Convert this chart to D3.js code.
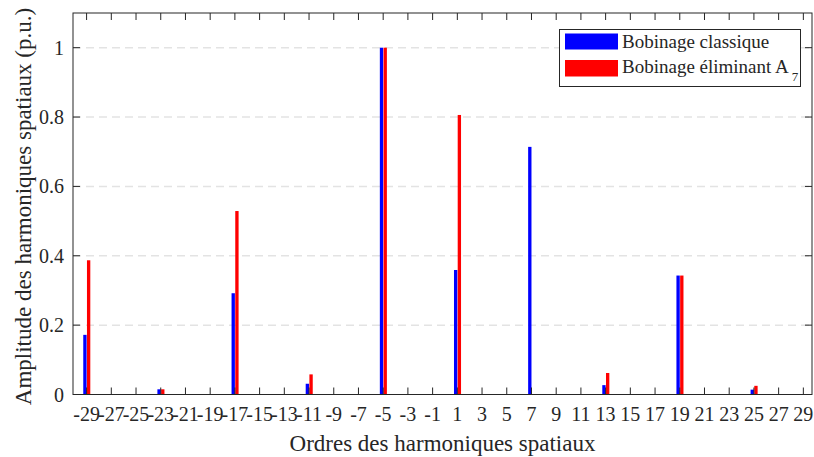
<!DOCTYPE html>
<html><head><meta charset="utf-8">
<script src="https://cdn.jsdelivr.net/npm/d3@7"></script>
<style>body{margin:0;background:#fff}svg{display:block}</style>
</head><body><svg id="c" width="814" height="457" font-family="'Liberation Serif', 'DejaVu Serif', 'Times New Roman', serif"></svg>
<script>
const orders = [-29,-27,-25,-23,-21,-19,-17,-15,-13,-11,-9,-7,-5,-3,-1,1,3,5,7,9,11,13,15,17,19,21,23,25,27,29];
const classique = [0.172,0,0,0.015,0,0,0.292,0,0,0.031,0,0,1.0,0,0,0.359,0,0,0.714,0,0,0.027,0,0,0.343,0,0,0.014,0,0];
const eliminant = [0.387,0,0,0.015,0,0,0.529,0,0,0.058,0,0,1.0,0,0,0.806,0,0,0,0,0,0.062,0,0,0.343,0,0,0.025,0,0];
const yTicks = [0,0.2,0.4,0.6,0.8,1];
const yTickLabels = ["0","0.2","0.4","0.6","0.8","1"];
const seriesNames = ["Bobinage classique","Bobinage éliminant A"];
const colors = ["#0000ff","#ff0000"];

const svg = d3.select("#c");
const L=73, R=812, T=13, B=394.5;
const x = d3.scaleLinear().domain([-30.1,29.7]).range([L,R]);
const y = d3.scaleLinear().domain([0,1.1]).range([B,T]);
const txt = "#262626";

// grid
svg.append("g").selectAll("line").data(yTicks.filter(d=>d>0)).join("line")
  .attr("x1",L).attr("x2",R).attr("y1",d=>y(d)).attr("y2",d=>y(d))
  .attr("stroke","#e3e3e3").attr("stroke-width",1.5).attr("stroke-dasharray","8,5");

const bw = 0.27;
const g = svg.append("g");
[classique, eliminant].forEach((vals,si)=>{
  g.append("g").selectAll("rect").data(orders.map((o,i)=>({o,v:vals[i]})).filter(d=>d.v>0)).join("rect")
    .attr("x",d=> si===0 ? x(d.o-bw) : x(d.o+0.03))
    .attr("width",x(bw)-x(0))
    .attr("y",d=>y(d.v)).attr("height",d=>B-y(d.v))
    .attr("fill",colors[si]);
});

// axes frame
const ax = svg.append("g").attr("stroke",txt).attr("stroke-width",1);
ax.append("rect").attr("x",L).attr("y",T).attr("width",R-L).attr("height",B-T).attr("fill","none");
const tl=7;
ax.selectAll(".xb").data(orders).join("line").attr("class","xb")
  .attr("x1",d=>x(d)).attr("x2",d=>x(d)).attr("y1",B).attr("y2",B-tl);
ax.selectAll(".xt").data(orders).join("line").attr("class","xt")
  .attr("x1",d=>x(d)).attr("x2",d=>x(d)).attr("y1",T).attr("y2",T+tl);
ax.selectAll(".yl").data(yTicks).join("line").attr("class","yl")
  .attr("x1",L).attr("x2",L+tl).attr("y1",d=>y(d)).attr("y2",d=>y(d));
ax.selectAll(".yr").data(yTicks).join("line").attr("class","yr")
  .attr("x1",R).attr("x2",R-tl).attr("y1",d=>y(d)).attr("y2",d=>y(d));

// tick labels
svg.append("g").selectAll("text").data(orders).join("text")
  .attr("x",d=>x(d)).attr("y",421).attr("text-anchor","middle").attr("fill",txt)
  .attr("font-size",20).text(d=>d<0?"-"+Math.abs(d):String(d));
svg.append("g").selectAll("text").data(yTicks).join("text")
  .attr("x",L-9).attr("y",d=>y(d)+7).attr("text-anchor","end").attr("fill",txt)
  .attr("font-size",20).text((d,i)=>yTickLabels[i]);

// axis titles
svg.append("text").attr("x",(L+R)/2).attr("y",451).attr("text-anchor","middle").attr("fill",txt)
  .attr("font-size",23).text("Ordres des harmoniques spatiaux");
svg.append("text").attr("transform",`translate(31,206.5) rotate(-90)`).attr("text-anchor","middle").attr("fill",txt)
  .attr("font-size",23).text("Amplitude des harmoniques spatiaux (p.u.)");

// legend
const lg = svg.append("g");
lg.append("rect").attr("x",559.5).attr("y",29.5).attr("width",241).attr("height",57)
  .attr("fill","#fff").attr("stroke",txt).attr("stroke-width",1);
lg.append("rect").attr("x",565).attr("y",33.5).attr("width",53).attr("height",16).attr("fill",colors[0]);
lg.append("rect").attr("x",565).attr("y",60).attr("width",53).attr("height",16.5).attr("fill",colors[1]);
lg.append("text").attr("x",622).attr("y",48).attr("font-size",19).attr("fill",txt).text(seriesNames[0]);
const t2 = lg.append("text").attr("x",622).attr("y",72.5).attr("font-size",19).attr("fill",txt).text(seriesNames[1]);
t2.append("tspan").attr("dy",8).attr("dx",3).attr("font-size",13).text("7");
</script></body></html>
